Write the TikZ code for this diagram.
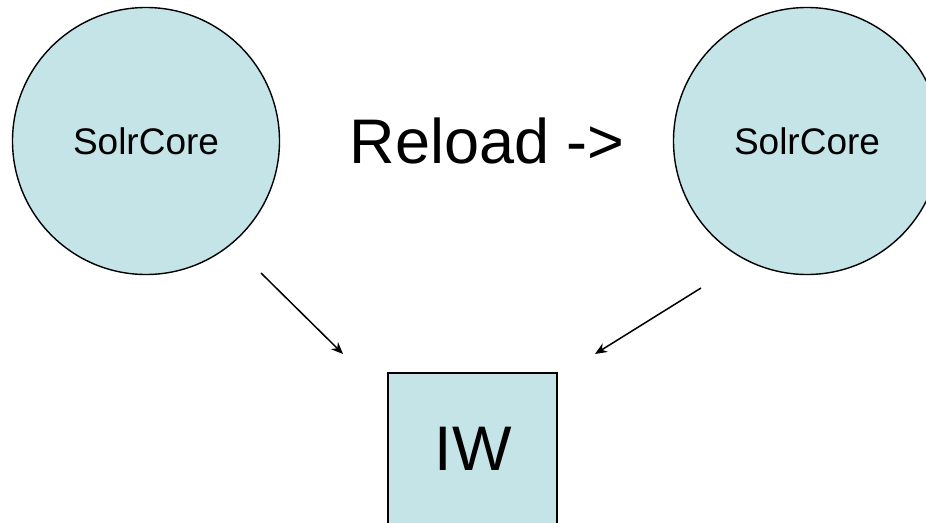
\documentclass[tikz,border=0pt]{standalone}
\usepackage{fontspec}
\setmainfont{Liberation Sans}
\usetikzlibrary{arrows.meta}
\definecolor{corefill}{RGB}{196,228,232}
\begin{document}
\begin{tikzpicture}[x=1pt,y=-1pt,
  core/.style={circle,draw=black,line width=1.4pt,fill=corefill,minimum size=267pt,inner sep=0pt,
    font=\fontsize{37}{40}\selectfont},
  writer/.style={draw=black,line width=1.4pt,fill=corefill},
  link/.style={line width=1.5pt,-{Stealth[length=12pt,width=10pt]}}]
\useasboundingbox (0,0) rectangle (926,522);
\clip (0,0) rectangle (926,522);
\node[core] (oldcore) at (146,141) {SolrCore};
\node[core] (newcore) at (807,141) {SolrCore};
\node[font=\fontsize{63}{66}\selectfont] (reload) at (487,141) {Reload ->};
\draw[writer] (388,373) rectangle (557,560);
\node[font=\fontsize{63}{66}\selectfont] (iw) at (473,449) {IW};
\coordinate (oldfrom) at (261,273);
\coordinate (oldto) at (343,354);
\coordinate (newfrom) at (701,288);
\coordinate (newto) at (595,354);
\draw[link] (oldfrom) -- (oldto);
\draw[link] (newfrom) -- (newto);
\end{tikzpicture}
\end{document}
